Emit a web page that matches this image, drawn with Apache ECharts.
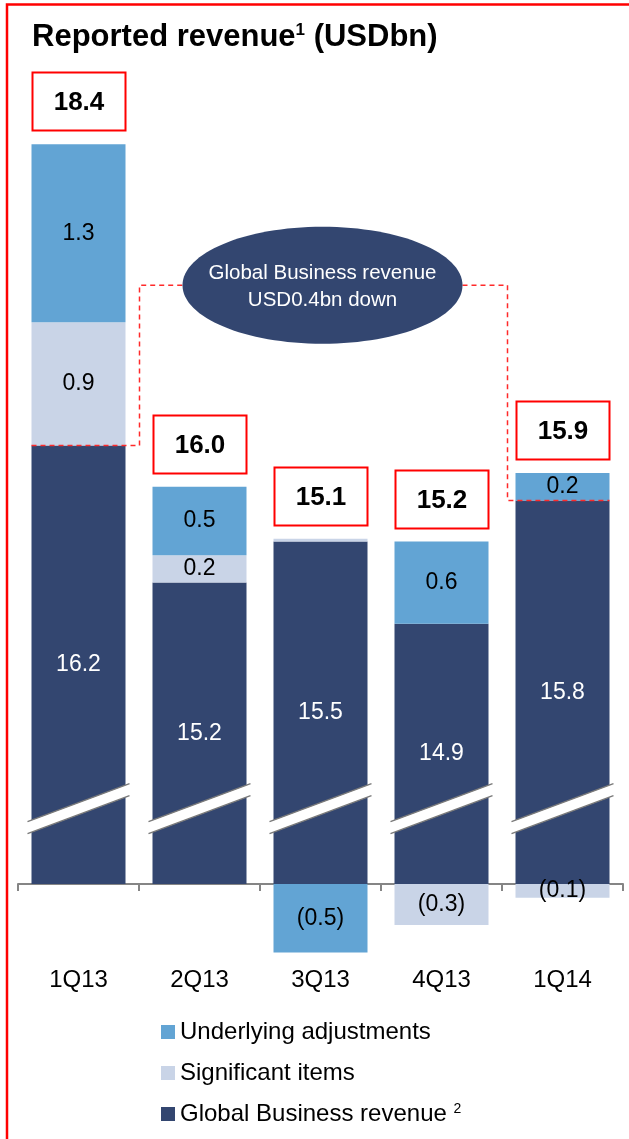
<!DOCTYPE html>
<html>
<head>
<meta charset="utf-8">
<script src="https://cdn.jsdelivr.net/npm/echarts@6/dist/echarts.min.js"></script>
<style>
  html, body { margin: 0; padding: 0; background: #fff; }
  #chart { width: 629px; height: 1139px; }
</style>
</head>
<body>
<div id="chart"></div>
<script>
// values in USDbn
const quarters = ['1Q13', '2Q13', '3Q13', '4Q13', '1Q14']
const globalBusiness = [16.2, 15.2, 15.5, 14.9, 15.8]
const significantItems = [0.9, 0.2, 0.02, -0.3, -0.1]
const underlyingAdj = [1.3, 0.5, -0.5, 0.6, 0.2]
const reportedTotals = [18.4, 16.0, 15.1, 15.2, 15.9]

// part of the value axis cut out by the break marks
const AXIS_BREAK = 13.0
const BREAK_LEVEL = 0.55
const ELLIPSE_LEVEL = 4.37

const FONT = '"Liberation Sans", Arial, sans-serif'
const C_DARK = '#334670'
const C_BLUE = '#62a4d4'
const C_LIGHT = '#c9d4e7'

const gbShown = globalBusiness.map(v => +(v - AXIS_BREAK).toFixed(2))
const stackTop = gbShown.map((v, i) => v + Math.max(significantItems[i], 0) + Math.max(underlyingAdj[i], 0))

function segLabel(p) {
  const v = p.value
  if (Math.abs(v) < 0.05) return ''
  return v < 0 ? '(' + Math.abs(v).toFixed(1) + ')' : v.toFixed(1)
}

const chart = echarts.init(document.getElementById('chart'))

chart.setOption({
  animation: false,
  textStyle: { fontFamily: FONT },
  title: {
    left: 32,
    top: 22,
    padding: 0,
    text: '{t|Reported revenue}{s|1}{t| (USDbn)}',
    textStyle: {
      rich: {
        t: { fontSize: 31, fontWeight: 'bold', color: '#000', lineHeight: 30, fontFamily: FONT },
        s: { fontSize: 17, fontWeight: 'bold', color: '#000', lineHeight: 20, verticalAlign: 'top', fontFamily: FONT },
      },
    },
  },
  legend: {
    orient: 'vertical',
    left: 161,
    top: 1020,
    padding: 0,
    itemWidth: 14,
    itemHeight: 14,
    itemGap: 17,
    icon: 'rect',
    data: ['Underlying adjustments', 'Significant items', 'Global Business revenue'],
    formatter: name => (name === 'Global Business revenue' ? name + ' {sup|2}' : name),
    textStyle: {
      fontSize: 24,
      color: '#000',
      lineHeight: 24,
      fontFamily: FONT,
      rich: { sup: { fontSize: 14, color: '#000', verticalAlign: 'top', lineHeight: 14, fontFamily: FONT } },
    },
  },
  grid: { left: 18, right: 6, top: 62, bottom: 172.8 },
  xAxis: {
    type: 'category',
    data: quarters,
    axisLine: { onZero: true, lineStyle: { color: '#858585', width: 2 } },
    axisTick: { show: true, length: 7, lineStyle: { color: '#858585', width: 2 } },
    axisLabel: { margin: 2, fontSize: 24, color: '#000', fontFamily: FONT },
  },
  yAxis: {
    type: 'value',
    min: -0.6,
    max: 6,
    show: false,
    splitLine: { show: false },
  },
  graphic: [
    {
      type: 'rect',
      shape: { x: 7, y: 4.5, width: 700, height: 1200 },
      style: { fill: 'none', stroke: '#ff0000', lineWidth: 2.5 },
      silent: true,
    },
  ],
  series: [
    {
      name: 'Global Business revenue',
      type: 'bar',
      stack: 'rev',
      barWidth: 94,
      data: gbShown,
      itemStyle: { color: C_DARK },
      label: {
        show: true,
        position: 'inside',
        fontSize: 23,
        color: '#fff',
        formatter: p => globalBusiness[p.dataIndex].toFixed(1),
      },
    },
    {
      name: 'Significant items',
      type: 'bar',
      stack: 'rev',
      barWidth: 94,
      data: significantItems,
      itemStyle: { color: C_LIGHT },
      label: { show: true, position: 'inside', fontSize: 23, color: '#000', formatter: segLabel },
    },
    {
      name: 'Underlying adjustments',
      type: 'bar',
      stack: 'rev',
      barWidth: 94,
      data: underlyingAdj,
      itemStyle: { color: C_BLUE },
      label: { show: true, position: 'inside', fontSize: 23, color: '#000', formatter: segLabel },
    },
    {
      // reported totals in red boxes above each stack
      type: 'custom',
      silent: true,
      z: 5,
      data: stackTop.map((v, i) => [i, v]),
      encode: { x: 0, y: 1 },
      renderItem: (params, api) => {
        const c = api.coord([api.value(0), api.value(1)])
        const w = 93, h = 58, gap = 14
        const x = Math.round(c[0] - w / 2) + 0.5
        const y = Math.round(c[1] - gap - h) + 0.5
        return {
          type: 'group',
          children: [
            { type: 'rect', shape: { x: x, y: y, width: w, height: h }, style: { fill: '#fff', stroke: '#ff0000', lineWidth: 2 } },
            {
              type: 'text',
              style: {
                text: reportedTotals[params.dataIndex].toFixed(1),
                x: x + w / 2, y: y + h / 2 + 1,
                align: 'center', verticalAlign: 'middle',
                fill: '#000', fontSize: 26, fontWeight: 'bold', fontFamily: FONT,
              },
            },
          ],
        }
      },
    },
    {
      // axis break marks across the dark bars
      type: 'custom',
      silent: true,
      z: 4,
      data: quarters.map((q, i) => [i, BREAK_LEVEL]),
      encode: { x: 0, y: 1 },
      renderItem: (params, api) => {
        const c = api.coord([api.value(0), api.value(1)])
        const half = 51, rise = 19, t = 6
        const lineStyle = { stroke: '#7a7a7a', lineWidth: 1.5 }
        return {
          type: 'group',
          children: [
            {
              type: 'polygon',
              shape: { points: [
                [c[0] - half, c[1] + rise + t], [c[0] + half, c[1] - rise + t],
                [c[0] + half, c[1] - rise - t], [c[0] - half, c[1] + rise - t],
              ] },
              style: { fill: '#fff' },
            },
            { type: 'line', shape: { x1: c[0] - half, y1: c[1] + rise - t, x2: c[0] + half, y2: c[1] - rise - t }, style: lineStyle },
            { type: 'line', shape: { x1: c[0] - half, y1: c[1] + rise + t, x2: c[0] + half, y2: c[1] - rise + t }, style: lineStyle },
          ],
        }
      },
    },
    {
      // callout: Global Business revenue change 1Q13 -> 1Q14
      type: 'custom',
      silent: true,
      z: 6,
      data: [[0, gbShown[0], quarters.length - 1, gbShown[quarters.length - 1]]],
      encode: { x: 0, y: 1 },
      renderItem: (params, api) => {
        const a = api.coord([api.value(0), api.value(1)])
        const b = api.coord([api.value(2), api.value(3)])
        const e = api.coord([2, ELLIPSE_LEVEL])
        const hw = 47, rx = 140, ry = 58.5
        const cx = e[0] + 2, cy = e[1]
        const dash = { stroke: '#ff2a2a', lineWidth: 1.5, lineDash: [5, 4], fill: null }
        return {
          type: 'group',
          children: [
            { type: 'polyline', shape: { points: [[a[0] - hw, a[1]], [a[0] + hw + 14, a[1]], [a[0] + hw + 14, cy], [cx - rx, cy]] }, style: dash },
            { type: 'polyline', shape: { points: [[cx + rx, cy], [b[0] - hw - 8, cy], [b[0] - hw - 8, b[1]], [b[0] + hw, b[1]]] }, style: dash },
            { type: 'ellipse', shape: { cx: cx, cy: cy, rx: rx, ry: ry }, style: { fill: C_DARK } },
            {
              type: 'text',
              style: {
                text: 'Global Business revenue\nUSD0.4bn down',
                x: cx, y: cy + 1.5,
                align: 'center', verticalAlign: 'middle',
                fill: '#fff', fontSize: 20.5, fontFamily: FONT, lineHeight: 27,
              },
            },
          ],
        }
      },
    },
  ],
})

window.addEventListener('resize', () => chart.resize())
</script>
</body>
</html>
